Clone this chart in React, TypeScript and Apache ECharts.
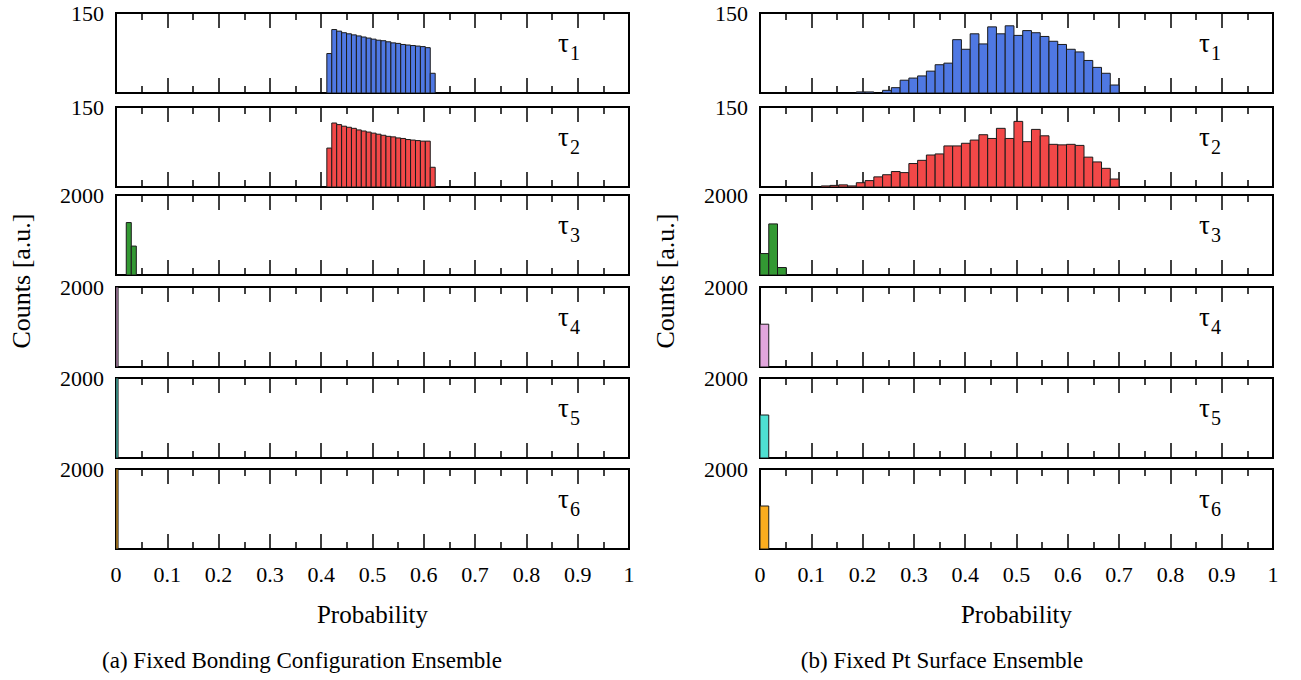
import React, { useEffect, useRef } from 'react';
import * as echarts from 'echarts';

const FONT = "'Liberation Serif', 'Times New Roman', serif";

// ---------- data ----------
const TAU_NAMES = ['1', '2', '3', '4', '5', '6'];
const TAU_COLORS = ['#4f78e3', '#f24848', '#339933', '#e2a6dd', '#4ee0d2', '#fbad1e'];
const Y_MAX = [150, 150, 2000, 2000, 2000, 2000];
const X_MIN = 0;
const X_MAX = 1;
const X_STEP = 0.1;

// (a) Fixed Bonding Configuration Ensemble
const leftBinWidth = 0.0096;
const leftTau12Start = 0.411;
const leftTau1Counts = [74, 119, 116, 113, 111, 109, 107, 105, 103, 101, 99, 98, 96, 94, 93, 91, 90, 89, 88, 87, 85, 37];
const leftTau2Counts = [73, 120, 117, 114, 112, 110, 107, 105, 103, 101, 99, 97, 95, 94, 92, 91, 89, 88, 87, 86, 86, 37];
const leftTau3Start = 0.02;
const leftTau3Width = 0.0098;
const leftTau3Counts = [1311, 723];
const leftZeroStart = 0;
const leftZeroWidth = 0.004;
const leftTau4Counts = [2400];
const leftTau5Counts = [2400];
const leftTau6Counts = [2400];

// (b) Fixed Pt Surface Ensemble
const rightBinWidth = 0.01707;
const rightTau1FirstBin = 11;
const rightTau1Counts = [2, 2, 0, 5, 10, 24, 28, 32, 41, 53, 56, 100, 82, 111, 92, 124, 111, 126, 108, 117, 113, 106, 97, 91, 82, 77, 61, 48, 37, 15];
const rightTau2FirstBin = 7;
const rightTau2Counts = [2, 3, 4, 2, 8, 12, 19, 23, 29, 27, 44, 50, 60, 62, 77, 77, 82, 88, 98, 91, 110, 91, 123, 85, 108, 96, 80, 79, 80, 78, 56, 47, 35, 15];
const rightTau3Counts = [536, 1277, 187];
const rightTau4Counts = [1070];
const rightTau5Counts = [1075];
const rightTau6Counts = [1075];

type Hist = { start: number; width: number; counts: number[] };

const leftHists: Hist[] = [
  { start: leftTau12Start, width: leftBinWidth, counts: leftTau1Counts },
  { start: leftTau12Start, width: leftBinWidth, counts: leftTau2Counts },
  { start: leftTau3Start, width: leftTau3Width, counts: leftTau3Counts },
  { start: leftZeroStart, width: leftZeroWidth, counts: leftTau4Counts },
  { start: leftZeroStart, width: leftZeroWidth, counts: leftTau5Counts },
  { start: leftZeroStart, width: leftZeroWidth, counts: leftTau6Counts },
];
const rightHists: Hist[] = [
  { start: rightTau1FirstBin * rightBinWidth, width: rightBinWidth, counts: rightTau1Counts },
  { start: rightTau2FirstBin * rightBinWidth, width: rightBinWidth, counts: rightTau2Counts },
  { start: 0, width: rightBinWidth, counts: rightTau3Counts },
  { start: 0, width: rightBinWidth, counts: rightTau4Counts },
  { start: 0, width: rightBinWidth, counts: rightTau5Counts },
  { start: 0, width: rightBinWidth, counts: rightTau6Counts },
];

// ---------- layout ----------
const ROW_TOPS = [13, 107, 195, 287, 378, 469];
const ROW_H = 80;
const COL_LEFT = [116, 760];
const COL_W = 513;
const TAU_X = [558, 1199];
const YLABEL_X = [21, 665];
const CAPTIONS = ['(a) Fixed Bonding Configuration Ensemble', '(b) Fixed Pt Surface Ensemble'];
const CAPTION_X = [302, 942];

function buildOption() {
  const grid: any[] = [];
  const xAxis: any[] = [];
  const yAxis: any[] = [];
  const series: any[] = [];
  const graphic: any[] = [];
  const cols = [leftHists, rightHists];

  cols.forEach((hists, col) => {
    hists.forEach((h, row) => {
      const g = col * 6 + row;
      const isBottom = row === 5;
      const yMax = Y_MAX[row];
      const color = TAU_COLORS[row];
      grid.push({
        left: COL_LEFT[col], top: ROW_TOPS[row], width: COL_W, height: ROW_H,
        show: true, borderColor: '#000', borderWidth: 2, backgroundColor: 'transparent',
      });
      const tick = { show: true, inside: true, length: 15, lineStyle: { color: '#000', width: 1.5 } };
      const minor = { show: true, splitNumber: 2, length: 7, lineStyle: { color: '#000', width: 1.5 } };
      xAxis.push({
        type: 'value', gridIndex: g, position: 'bottom', min: X_MIN, max: X_MAX, interval: X_STEP,
        axisLine: { show: false, onZero: false }, axisTick: tick, minorTick: minor,
        splitLine: { show: false }, minorSplitLine: { show: false },
        axisLabel: { show: isBottom, fontFamily: FONT, fontSize: 22, color: '#000', margin: 14 },
        name: isBottom ? 'Probability' : '', nameLocation: 'middle', nameGap: 53,
        nameTextStyle: { fontFamily: FONT, fontSize: 25, color: '#000' },
      });
      xAxis.push({
        type: 'value', gridIndex: g, position: 'top', min: X_MIN, max: X_MAX, interval: X_STEP,
        axisLine: { show: false, onZero: false }, axisTick: tick, minorTick: minor,
        splitLine: { show: false }, minorSplitLine: { show: false }, axisLabel: { show: false },
      });
      yAxis.push({
        type: 'value', gridIndex: g, min: 0, max: yMax, interval: yMax,
        axisLine: { show: false }, axisTick: { show: false }, splitLine: { show: false },
        axisLabel: {
          fontFamily: FONT, fontSize: 22, color: '#000', margin: 12,
          formatter: (v: number) => (v === yMax ? String(v) : ''),
        },
      });
      const data = h.counts
        .map((c, i) => [h.start + i * h.width, h.start + (i + 1) * h.width, c])
        .filter((d) => d[2] > 0);
      series.push({
        type: 'custom', xAxisIndex: 2 * g, yAxisIndex: g, data, clip: true,
        renderItem: (params: any, api: any) => {
          const x0 = api.value(0);
          const x1 = api.value(1);
          const v = Math.min(api.value(2), yMax);
          const tl = api.coord([x0, v]);
          const br = api.coord([x1, 0]);
          return {
            type: 'rect',
            shape: { x: tl[0], y: tl[1], width: br[0] - tl[0], height: br[1] - tl[1] },
            style: { fill: color, stroke: '#1b1b1b', lineWidth: 1 },
          };
        },
      });
      graphic.push({
        type: 'text', x: TAU_X[col], y: ROW_TOPS[row] + 30,
        style: { text: 'τ', font: `27px ${FONT}`, fill: '#000', verticalAlign: 'middle', align: 'left' },
      });
      graphic.push({
        type: 'text', x: TAU_X[col] + 12, y: ROW_TOPS[row] + 40,
        style: { text: TAU_NAMES[row], font: `20px ${FONT}`, fill: '#000', verticalAlign: 'middle', align: 'left' },
      });
    });
    graphic.push({
      type: 'text', x: YLABEL_X[col], y: ROW_TOPS[0] + (ROW_TOPS[5] + ROW_H - ROW_TOPS[0]) / 2, rotation: Math.PI / 2,
      style: { text: 'Counts [a.u.]', font: `26px ${FONT}`, fill: '#000', align: 'center', verticalAlign: 'middle' },
    });
    graphic.push({
      type: 'text', x: CAPTION_X[col], y: 660,
      style: { text: CAPTIONS[col], font: `23px ${FONT}`, fill: '#000', align: 'center', verticalAlign: 'middle' },
    });
  });

  return { animation: false, backgroundColor: '#fff', grid, xAxis, yAxis, series, graphic };
}

export default function App() {
  const ref = useRef<HTMLDivElement>(null);
  useEffect(() => {
    if (!ref.current) return;
    const chart = echarts.init(ref.current, undefined, { renderer: 'svg' });
    chart.setOption(buildOption() as any);
    return () => chart.dispose();
  }, []);
  return <div ref={ref} style={{ position: 'absolute', left: 0, top: 0, width: 1301, height: 680 }} />;
}
